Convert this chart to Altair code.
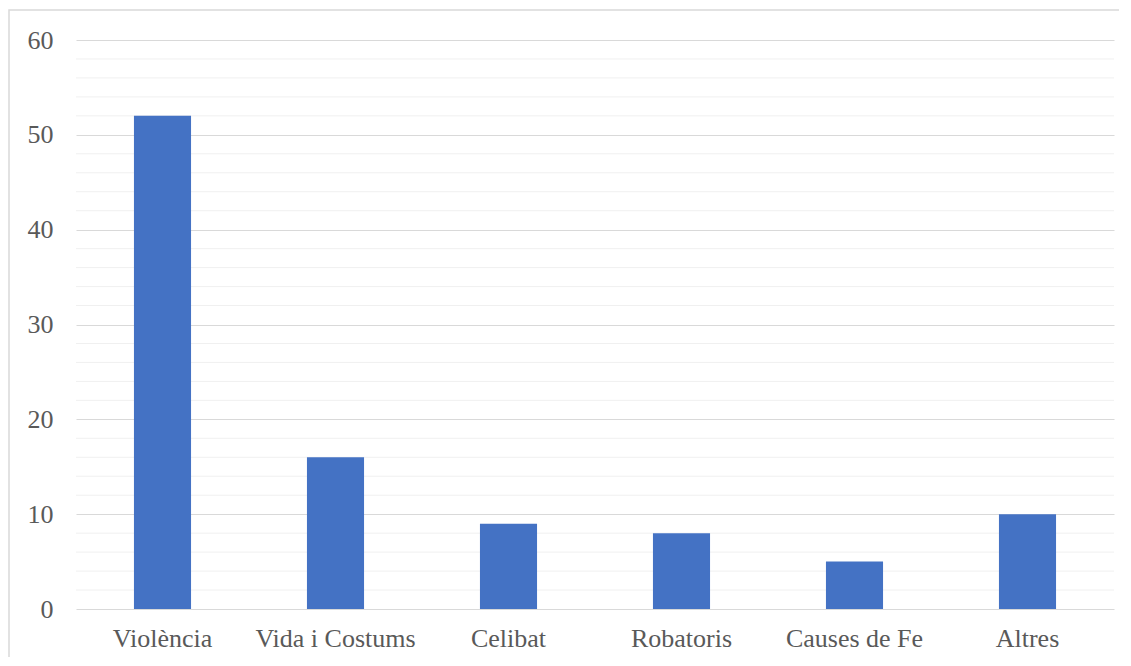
import altair as alt
import pandas as pd

categories = ["Violència", "Vida i Costums", "Celibat", "Robatoris", "Causes de Fe", "Altres"]
values = [52, 16, 9, 8, 5, 10]
major_ticks = [0, 10, 20, 30, 40, 50, 60]
minor_ticks = [2, 4, 6, 8, 12, 14, 16, 18, 22, 24, 26, 28, 32, 34, 36, 38,
               42, 44, 46, 48, 52, 54, 56, 58]

df = pd.DataFrame({"cat": categories, "val": values})
minor_df = pd.DataFrame({"v": minor_ticks})

W, H = 1038, 569
FONT = "Times New Roman"

yscale = alt.Scale(domain=[0, 60], nice=False)
yaxis = alt.Axis(values=major_ticks, labelFont=FONT, labelFontSize=26,
                 labelColor="#595959", ticks=False, domain=False,
                 labelPadding=23, grid=True, gridColor="#d9d9d9",
                 gridWidth=1.2, title=None)

minor = alt.Chart(minor_df).mark_rule(color="#f0f0f0", strokeWidth=1).encode(
    y=alt.Y("v:Q", scale=yscale, axis=yaxis, title=None)
)

bars = alt.Chart(df).mark_bar(color="#4472C4").encode(
    x=alt.X("cat:N", sort=categories, title=None,
            scale=alt.Scale(paddingInner=0.67, paddingOuter=0.335),
            axis=alt.Axis(labelAngle=0, labelFont=FONT, labelFontSize=26,
                          labelColor="#595959", ticks=False, domain=False,
                          labelPadding=16, grid=False)),
    y=alt.Y("val:Q", scale=yscale, title=None, axis=yaxis)
)

border = alt.Chart(pd.DataFrame({"a": [0]})).mark_rect(
    fill=None, stroke="#d9d9d9", strokeWidth=1.5
).encode(
    x=alt.value(-67), x2=alt.value(W + 40),
    y=alt.value(-30), y2=alt.value(H + 80)
)

chart = alt.layer(border, minor, bars).properties(
    width=W, height=H,
    autosize=alt.AutoSizeParams(type="none"),
    padding={"left": 68, "top": 32, "right": 5, "bottom": 48},
    background="white",
).configure(font=FONT).configure_axis(labelFont=FONT).configure_view(stroke=None)

chart.save("out.html", embed_options={"renderer": "svg", "actions": False})
